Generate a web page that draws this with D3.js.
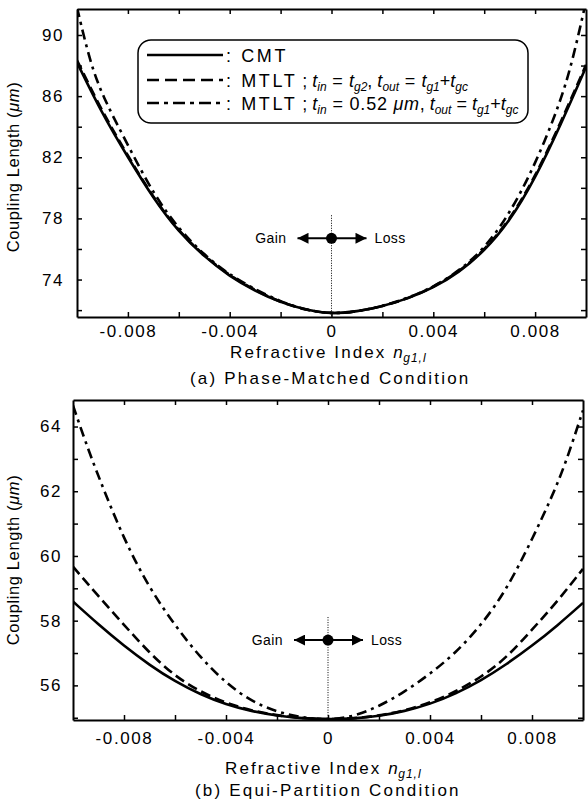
<!DOCTYPE html>
<html>
<head>
<meta charset="utf-8">
<script src="https://cdn.jsdelivr.net/npm/d3@7"></script>
<style>
  body { margin: 0; background: #fff; }
  svg { display: block; font-family: "Liberation Sans", Arial, sans-serif; }
</style>
</head>
<body>
<script>
// refractive index perturbation (x values)
var nIndex = [-0.010, -0.009, -0.008, -0.007, -0.006, -0.005, -0.004, -0.003, -0.002, -0.001, 0,
              0.001, 0.002, 0.003, 0.004, 0.005, 0.006, 0.007, 0.008, 0.009, 0.010];
var nIndexDD = [-0.010, -0.0095, -0.009, -0.008, -0.007, -0.006, -0.005, -0.004, -0.003, -0.002, -0.001, 0,
                0.001, 0.002, 0.003, 0.004, 0.005, 0.006, 0.007, 0.008, 0.009, 0.0095, 0.010];

// (a) phase-matched condition, coupling length (um)
var pmCMT    = [88.2, 84.8, 82.0, 79.3, 77.1, 75.5, 74.2, 73.25, 72.5, 72.0, 71.75,
                71.9, 72.25, 72.75, 73.45, 74.45, 75.85, 77.8, 80.6, 84.1, 87.9];
var pmMTLT   = [88.35, 84.95, 82.1, 79.35, 77.15, 75.55, 74.25, 73.3, 72.5, 72.0, 71.75,
                71.9, 72.25, 72.75, 73.5, 74.5, 75.9, 77.9, 80.7, 84.25, 88.05];
var pmMTLT52 = [91.8, 88.3, 86.0, 82.8, 79.6, 77.3, 75.6, 74.3, 73.35, 72.55, 72.0, 71.75,
                71.9, 72.25, 72.8, 73.5, 74.55, 76.0, 78.3, 81.5, 85.6, 88.5, 92.2];

// (b) equi-partition condition
var epCMT    = [58.59, 57.88, 57.22, 56.63, 56.12, 55.72, 55.41, 55.2, 55.06, 54.98, 54.95,
                54.97, 55.05, 55.2, 55.42, 55.74, 56.15, 56.65, 57.22, 57.85, 58.55];
var epMTLT   = [59.67, 58.75, 57.87, 57.0, 56.28, 55.8, 55.45, 55.22, 55.07, 54.98, 54.95,
                54.98, 55.06, 55.22, 55.46, 55.8, 56.25, 56.85, 57.72, 58.6, 59.6];
var epMTLT52 = [64.65, 63.5, 62.45, 60.5, 59.0, 57.85, 56.85, 56.07, 55.5, 55.18, 55.0, 54.93,
                55.03, 55.35, 55.8, 56.35, 57.0, 57.85, 58.95, 60.5, 62.2, 63.3, 64.5];

// ticks
var xTicks = [-0.008, -0.006, -0.004, -0.002, 0, 0.002, 0.004, 0.006, 0.008];
var xTickLabels = ["-0.008", "-0.004", "0", "0.004", "0.008"];
var pmYTicks = [72, 74, 76, 78, 80, 82, 84, 86, 88, 90];
var pmYLabels = [74, 78, 82, 86, 90];
var epYTicks = [55, 56, 57, 58, 59, 60, 61, 62, 63, 64];
var epYLabels = [56, 58, 60, 62, 64];

// gain/loss marker position (data units)
var pmMarker = [0, 76.7];
var epMarker = [0, 57.4];

var W = 588, H = 803;
var FONT = "\"Liberation Sans\", Arial, sans-serif";

var svg = d3.select("body").append("svg")
    .attr("width", W)
    .attr("height", H);

var defs = svg.append("defs");
defs.append("marker")
    .attr("id", "arrow")
    .attr("viewBox", "0 0 10 10")
    .attr("refX", 10).attr("refY", 5)
    .attr("markerWidth", 15).attr("markerHeight", 11)
    .attr("markerUnits", "userSpaceOnUse")
    .attr("orient", "auto")
  .append("path")
    .attr("d", "M0,0 L10,5 L0,10 Z")
    .attr("fill", "#000");

var STYLES = {
    solid: null,
    dash: "10,5",
    dashdot: "10,5,3,5"
};

// write text made of normal / italic / subscript parts
function rich(text, parts, size) {
    var sub = false;
    parts.forEach(function (p) {
        var t = text.append("tspan").text(p[0]);
        var isSub = p[1] === "s";
        if (p[1] === "i" || isSub) t.style("font-style", "italic");
        if (isSub) t.attr("font-size", Math.round(size * 0.68));
        if (isSub && !sub) t.attr("dy", 4);
        if (!isSub && sub) t.attr("dy", -4);
        if (p[2] != null) t.attr("letter-spacing", p[2]);
        sub = isSub;
    });
}

function drawPanel(cfg) {
    var x = d3.scaleLinear().domain([-0.01, 0.01]).range([cfg.left, cfg.right]);
    var y = d3.scaleLinear().domain(cfg.yDomain).range([cfg.bottom, cfg.top]);

    var g = svg.append("g");

    var clipId = "clip-" + cfg.id;
    defs.append("clipPath").attr("id", clipId)
      .append("rect")
        .attr("x", cfg.left).attr("y", cfg.top)
        .attr("width", cfg.right - cfg.left)
        .attr("height", cfg.bottom - cfg.top);

    // curves
    var lines = g.append("g").attr("clip-path", "url(#" + clipId + ")");
    cfg.series.forEach(function (s) {
        var pts = s.x.map(function (v, i) { return [v, s.y[i]]; });
        var line = d3.line()
            .x(function (d) { return x(d[0]); })
            .y(function (d) { return y(d[1]); })
            .curve(d3.curveBasis);
        lines.append("path")
            .attr("d", line(pts))
            .attr("fill", "none")
            .attr("stroke", "#000")
            .attr("stroke-width", 2.6)
            .attr("stroke-dasharray", STYLES[s.style]);
    });

    // frame + ticks on all four sides, ticks pointing in
    var xb = d3.axisBottom(x).tickValues(xTicks).tickSizeInner(-5).tickSizeOuter(0)
        .tickPadding(cfg.xPad)
        .tickFormat(function (d) {
            var s = d === 0 ? "0" : d3.format(".3f")(d).replace("\u2212", "-");
            return xTickLabels.indexOf(s) >= 0 ? s : "";
        });
    var xt = d3.axisTop(x).tickValues(xTicks).tickSizeInner(-5).tickSizeOuter(0).tickFormat("");
    var yl = d3.axisLeft(y).tickValues(cfg.yTicks).tickSizeInner(-5).tickSizeOuter(0)
        .tickPadding(cfg.yPad)
        .tickFormat(function (d) { return cfg.yLabels.indexOf(d) >= 0 ? d : ""; });
    var yr = d3.axisRight(y).tickValues(cfg.yTicks).tickSizeInner(-5).tickSizeOuter(0).tickFormat("");

    var axes = [
        g.append("g").attr("transform", "translate(0," + cfg.bottom + ")").call(xb),
        g.append("g").attr("transform", "translate(0," + cfg.top + ")").call(xt),
        g.append("g").attr("transform", "translate(" + cfg.left + ",0)").call(yl),
        g.append("g").attr("transform", "translate(" + cfg.right + ",0)").call(yr)
    ];
    axes.forEach(function (a) {
        a.select(".domain").attr("stroke-width", 2);
        a.selectAll(".tick line").attr("stroke-width", 1.5);
        a.selectAll(".tick text")
            .attr("font-family", FONT)
            .attr("font-size", 17)
            .attr("letter-spacing", 1.6)
            .attr("fill", "#000");
    });

    // y axis title
    var yt = g.append("text")
        .attr("transform", "translate(" + cfg.yTitleX + "," + ((cfg.top + cfg.bottom) / 2 + cfg.yTitleDy) + ") rotate(-90)")
        .attr("text-anchor", "middle")
        .attr("font-size", 16.5)
        .attr("letter-spacing", 0.6);
    rich(yt, [["Coupling Length (", "n"], ["\u03bcm", "i"], [")", "n"]], 16.5);

    // x axis title
    var xtl = g.append("text")
        .attr("x", cfg.xTitleX)
        .attr("y", cfg.xTitleY)
        .attr("font-size", 17)
        .attr("letter-spacing", 2.1);
    rich(xtl, [["Refractive Index  ", "n"], ["n", "i", 0.5], ["g1,l", "s", 1]], 17);

    g.append("text")
        .attr("x", cfg.capX)
        .attr("y", cfg.capY)
        .attr("font-size", 17)
        .attr("letter-spacing", 2.2)
        .text(cfg.caption);

    // gain / loss marker
    var mx = x(cfg.marker[0]), my = y(cfg.marker[1]);
    g.append("line")
        .attr("x1", mx).attr("x2", mx)
        .attr("y1", my - 23).attr("y2", cfg.bottom)
        .attr("stroke", "#000").attr("stroke-width", 1)
        .attr("stroke-dasharray", "1,1.5");
    g.append("line")
        .attr("x1", mx).attr("x2", mx - 34).attr("y1", my).attr("y2", my)
        .attr("stroke", "#000").attr("stroke-width", 2)
        .attr("marker-end", "url(#arrow)");
    g.append("line")
        .attr("x1", mx).attr("x2", mx + 35).attr("y1", my).attr("y2", my)
        .attr("stroke", "#000").attr("stroke-width", 2)
        .attr("marker-end", "url(#arrow)");
    g.append("circle")
        .attr("cx", mx).attr("cy", my).attr("r", 5.5)
        .attr("fill", "#000");
    g.append("text")
        .attr("x", mx - 45).attr("y", my + 5)
        .attr("text-anchor", "end")
        .attr("font-size", 14)
        .attr("letter-spacing", 0.4)
        .text("Gain");
    g.append("text")
        .attr("x", mx + 43).attr("y", my + 5)
        .attr("font-size", 14)
        .attr("letter-spacing", 0.4)
        .text("Loss");

    return g;
}

drawPanel({
    id: "a",
    left: 77, right: 586, top: 9, bottom: 317,
    yDomain: [71.55, 91.7],
    yTicks: pmYTicks, yLabels: pmYLabels,
    xPad: 8, yPad: 13,
    yTitleX: 19, yTitleDy: 4,
    xTitleX: 230, xTitleY: 358,
    capX: 190, capY: 384,
    caption: "(a) Phase-Matched Condition",
    marker: pmMarker,
    series: [
        {x: nIndex, y: pmCMT, style: "solid"},
        {x: nIndex, y: pmMTLT, style: "dash"},
        {x: nIndexDD, y: pmMTLT52, style: "dashdot"}
    ]
});

drawPanel({
    id: "b",
    left: 73, right: 583, top: 400, bottom: 720,
    yDomain: [54.93, 64.82],
    yTicks: epYTicks, yLabels: epYLabels,
    xPad: 12, yPad: 11,
    yTitleX: 19, yTitleDy: 0,
    xTitleX: 225, xTitleY: 774,
    capX: 195, capY: 796,
    caption: "(b) Equi-Partition Condition",
    marker: epMarker,
    series: [
        {x: nIndex, y: epCMT, style: "solid"},
        {x: nIndex, y: epMTLT, style: "dash"},
        {x: nIndexDD, y: epMTLT52, style: "dashdot"}
    ]
});

// legend of panel (a)
var legend = svg.append("g");
legend.append("rect")
    .attr("x", 138).attr("y", 40)
    .attr("width", 390).attr("height", 83)
    .attr("rx", 13).attr("ry", 13)
    .attr("fill", "#fff")
    .attr("stroke", "#000")
    .attr("stroke-width", 1.5);

var legendRows = [
    {style: "solid", y: 55, parts: [[": CMT", "n", 2.6]]},
    {style: "dash", y: 80, parts: [[": MTLT", "n", 2.6], [" ; ", "n"], ["t", "i"], ["in", "s"], [" = ", "n", 0.6],
        ["t", "i"], ["g2", "s"], [", ", "n"], ["t", "i"], ["out", "s"], [" = ", "n", 0.6],
        ["t", "i"], ["g1", "s"], ["+", "n"], ["t", "i"], ["gc", "s"]]},
    {style: "dashdot", y: 103, parts: [[": MTLT", "n", 2.6], [" ; ", "n"], ["t", "i"], ["in", "s"], [" = 0.52 ", "n", 0.8],
        ["\u03bcm", "i", 0.6], [", ", "n"], ["t", "i"], ["out", "s"], [" = ", "n"],
        ["t", "i"], ["g1", "s"], ["+", "n"], ["t", "i"], ["gc", "s"]]}
];
var legendDash = {solid: null, dash: "12,6", dashdot: "12,5,4,5"};

legendRows.forEach(function (r) {
    legend.append("line")
        .attr("x1", 147).attr("x2", 223)
        .attr("y1", r.y).attr("y2", r.y)
        .attr("stroke", "#000")
        .attr("stroke-width", 2.6)
        .attr("stroke-dasharray", legendDash[r.style]);
    var t = legend.append("text")
        .attr("x", 226)
        .attr("y", r.y + 7)
        .attr("font-size", 18)
        .attr("letter-spacing", 0);
    rich(t, r.parts, 18);
});
</script>
</body>
</html>
